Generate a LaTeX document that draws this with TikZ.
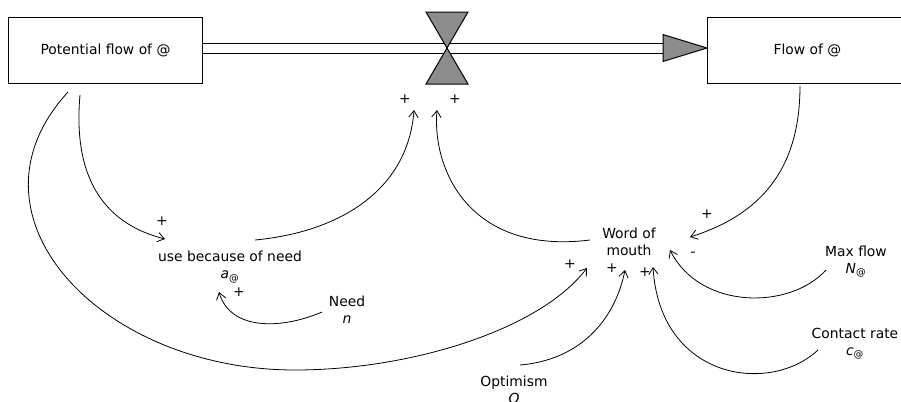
\documentclass[tikz,border=0pt]{standalone}
\usepackage{fontspec}
\setmainfont{DejaVu Sans}
\usetikzlibrary{arrows.meta}
\definecolor{valvegray}{RGB}{140,140,140}

\begin{document}
\begin{tikzpicture}[
    x=0.75pt, y=-0.75pt,
    font=\fontsize{10.4}{12.75}\selectfont,
    block/.style={rectangle, draw, line width=0.75pt, minimum width=146pt, minimum height=50pt},
    var/.style={align=center, inner sep=1pt},
    sign/.style={inner sep=0pt},
    link/.style={-{Straight Barb[length=5pt,width=7pt]}, line width=0.6pt},
    pipe/.style={line width=0.75pt},
    valvepart/.style={fill=valvegray, draw, line width=0.75pt}
]
\useasboundingbox (0,0) rectangle (901,401);

% Bestaende
\node[block] (pot)  at (105.5,50.5) {Potential flow of @};
\node[block, minimum width=150pt] (flow) at (807.5,50.5) {Flow of @};

% Fluss mit Ventil
\coordinate (valve) at (447,48);
\coordinate (pipein) at (pot.east |- valve);
\coordinate (pipeout) at (663,48);
\draw[pipe] ([yshift=3.75pt]pipein) -- ([yshift=3.75pt]pipeout);
\draw[pipe] ([yshift=-3.75pt]pipein) -- ([yshift=-3.75pt]pipeout);
\filldraw[valvepart] (valve) -- ++(-21,-36) -- ++(42,0) -- cycle;
\filldraw[valvepart] (valve) -- ++(-21,36) -- ++(42,0) -- cycle;
\filldraw[valvepart] ([yshift=10.1pt]pipeout) -- (flow.west |- valve) -- ([yshift=-10.1pt]pipeout) -- cycle;

% Hilfsgroessen
\node[var] (use)     at (230,267)   {use because of need\\\textit{a}\textsubscript{@}};
\node[var] (need)    at (347,310)   {Need\\\textit{n}};
\node[var] (wom)     at (629,242)   {Word of\\mouth};
\node[var] (maxf)    at (856,261.5) {Max flow\\\textit{N}\textsubscript{@}};
\node[var] (contact) at (855,344)   {Contact rate\\\textit{c}\textsubscript{@}};
\node[var] (optim)   at (514,390)   {Optimism\\\textit{O}};

% Vorzeichen
\node[sign] (sg1) at (162,221) {+};
\node[sign] (sg2) at (239,292) {+};
\node[sign] (sg3) at (405,99)  {+};
\node[sign] (sg4) at (455,99)  {+};
\node[sign] (sg5) at (707,214) {+};
\node[sign] (sg6) at (693,254) {-};
\node[sign] (sg7) at (645,272) {+};
\node[sign] (sg8) at (612,268) {+};
\node[sign] (sg9) at (570,264) {+};

% Wirkungen
\draw[link] ([shift={(-25.5,44.5)}]pot.center) .. controls +(-8,90) and +(-55,-14) .. ([shift={(-65,-28)}]use.center);
\draw[link] ([shift={(-37.5,41.5)}]pot.center) .. controls +(-113,123) and +(-195,0) .. (295,370)
    .. controls +(115,0) and +(-47,62) .. ([shift={(-42,26)}]wom.center);
\draw[link] ([shift={(25,-27)}]use.center) .. controls +(85,-8) and +(-6,80) .. ([shift={(-33,62)}]valve);
\draw[link] ([shift={(-39,-2)}]wom.center) .. controls +(-120,15) and +(-5,60) .. ([shift={(-10,62)}]valve);
\draw[link] ([shift={(-7.5,35.5)}]flow.center) .. controls +(0,84) and +(70,-22) .. ([shift={(61,-5)}]wom.center);
\draw[link] ([shift={(-30,8.5)}]maxf.center) .. controls +(-36,40) and +(30,60) .. ([shift={(41,8)}]wom.center);
\draw[link] ([shift={(-37,6)}]contact.center) .. controls +(-48,45) and +(7,113) .. ([shift={(24,25)}]wom.center);
\draw[link] ([shift={(6,-25)}]optim.center) .. controls +(60,-5) and +(-10,50) .. ([shift={(-4,28)}]wom.center);
\draw[link] ([shift={(-25,2)}]need.center) .. controls +(-42,18) and +(11,38) .. ([shift={(-11,25)}]use.center);

\end{tikzpicture}
\end{document}
